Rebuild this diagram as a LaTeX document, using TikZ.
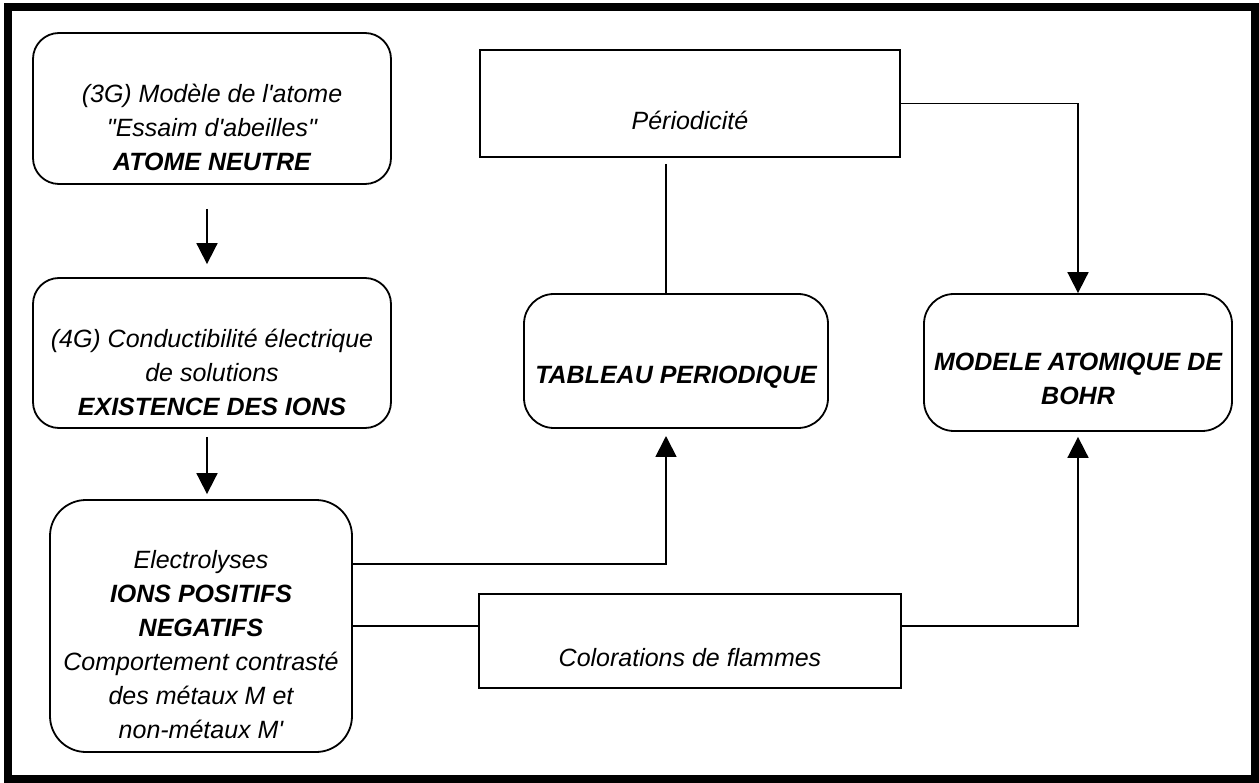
\documentclass[tikz,border=0pt]{standalone}
\usepackage{fontspec}
\newfontfamily\arialf{Liberation Sans}
\usetikzlibrary{arrows.meta}
\begin{document}
\begin{tikzpicture}[x=1pt,y=-1pt,
  rbox/.style={draw,line width=1.8pt,rounded corners=#1,inner sep=0pt},
  rbox/.default=26pt,
  sbox/.style={draw,line width=1.8pt,inner sep=0pt},
  txt/.style={inner sep=0pt,align=center,font=\arialf\itshape\fontsize{25}{34}\selectfont},
  conn/.style={line width=1.8pt},
  arr/.style={conn,-{Triangle[length=21pt,width=21pt]}}]
\useasboundingbox (0,0) rectangle (1259,783);
\fill[white] (0,0) rectangle (1259,783);
\draw[line width=8pt] (8,7) rectangle (1255,779);
% boxes
\node[rbox, minimum width=358pt, minimum height=151pt] (A) at (212,108.5) {};
\node[rbox, minimum width=358pt, minimum height=150pt] (B) at (212,353) {};
\node[rbox=36pt, minimum width=302pt, minimum height=252pt] (C) at (201,626) {};
\node[sbox, minimum width=420pt, minimum height=107pt] (P) at (690,103.5) {};
\node[rbox=30pt, minimum width=304pt, minimum height=134pt] (T) at (676,361) {};
\node[rbox=30pt, minimum width=308pt, minimum height=137pt] (M) at (1078,362.5) {};
\node[sbox, minimum width=422pt, minimum height=94pt] (F) at (690,641) {};
% texts
\node[txt] (At) at ([yshift=-19pt]A.center) {(3G) Modèle de l'atome\\"Essaim d'abeilles"\\\bfseries ATOME NEUTRE};
\node[txt] (Bt) at ([yshift=-19pt]B.center) {(4G) Conductibilité électrique\\de solutions\\\bfseries EXISTENCE DES IONS};
\node[txt] (Ct) at ([yshift=-19pt]C.center) {Electrolyses\\\bfseries IONS POSITIFS\\\bfseries NEGATIFS\\Comportement contrasté\\des métaux M et\\non-métaux M'};
\node[txt] (Pt) at ([yshift=-17pt]P.center) {Périodicité};
\node[txt] (Tt) at ([yshift=-16pt]T.center) {\bfseries TABLEAU PERIODIQUE};
\node[txt] (Mt) at ([yshift=-16pt]M.center) {\bfseries MODELE ATOMIQUE DE\\\bfseries BOHR};
\node[txt] (Ft) at ([yshift=-17pt]F.center) {Colorations de flammes};
% connectors
\coordinate (tIn) at (666,436);
\draw[arr, shorten <=24pt, shorten >=13pt] ([xshift=-5pt]A.south) -- ([xshift=-5pt]A.south |- B.north);
\draw[arr, shorten <=8pt, shorten >=5pt] ([xshift=-5pt]B.south) -- ([xshift=-5pt]B.south |- C.north);
\draw[arr] ([yshift=62pt]C.east) -| (tIn);
\draw[conn] (C.east) -- (C.east -| F.west);
\draw[arr] (F.east |- C.east) -| ([yshift=-5pt]M.south);
\draw[arr] (P.east) -| (M.north);
\draw[conn, shorten <=6pt] (P.south -| tIn) -- (T.north -| tIn);
\end{tikzpicture}
\end{document}
